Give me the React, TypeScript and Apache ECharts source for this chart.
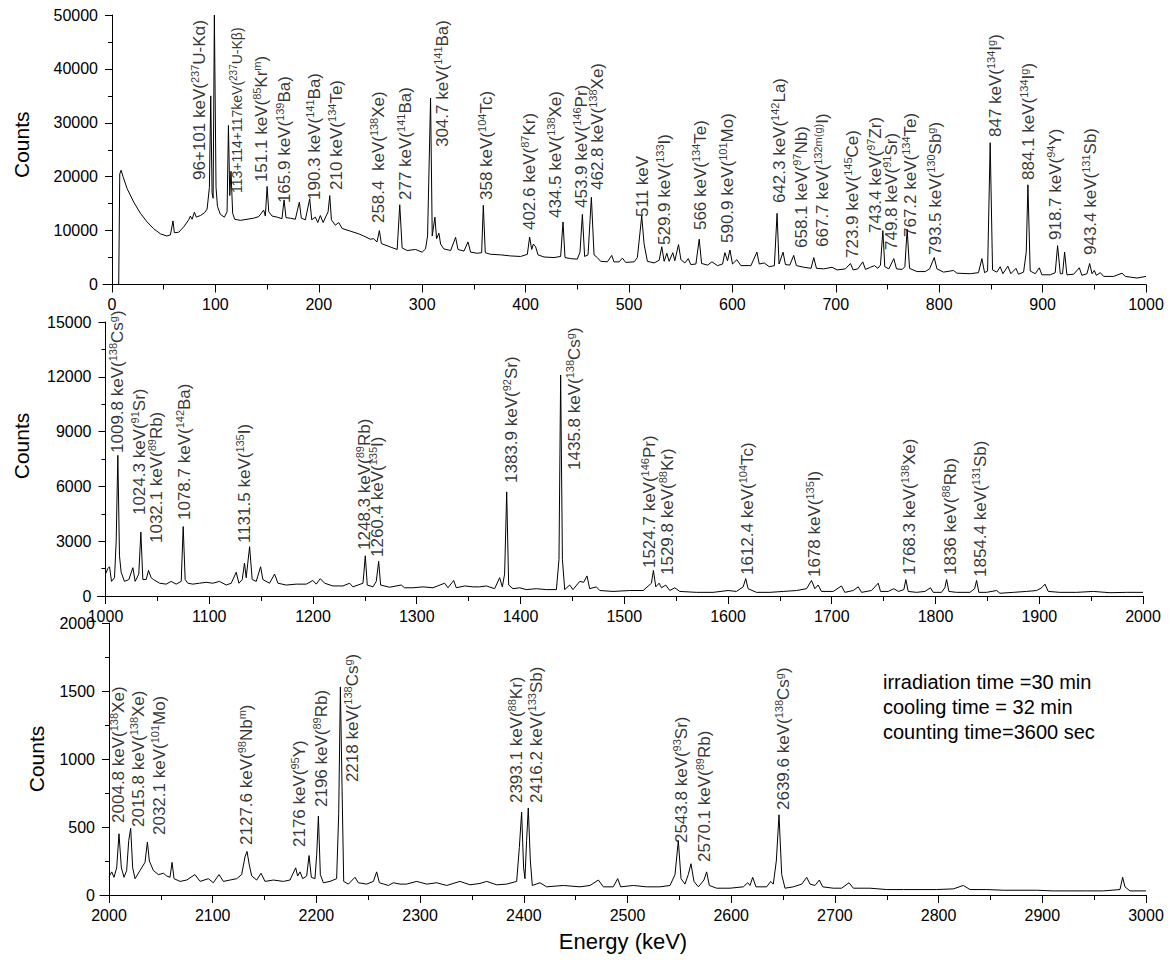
import React, { useEffect, useRef } from "react";
import * as echarts from "echarts";

const FONT = '"Liberation Sans", Arial, Helvetica, sans-serif';

// ---- tick values ----
const majorLow = [0, 100, 200, 300, 400, 500, 600, 700, 800, 900, 1000];
const minorLow = [50, 150, 250, 350, 450, 550, 650, 750, 850, 950];
const majorMid = [1000, 1100, 1200, 1300, 1400, 1500, 1600, 1700, 1800, 1900, 2000];
const minorMid = [1050, 1150, 1250, 1350, 1450, 1550, 1650, 1750, 1850, 1950];
const majorHigh = [2000, 2100, 2200, 2300, 2400, 2500, 2600, 2700, 2800, 2900, 3000];
const minorHigh = [2050, 2150, 2250, 2350, 2450, 2550, 2650, 2750, 2850, 2950];

// ---- spectrum [energy keV, counts] ----
const spectrumLow = [
  [6.5, 0], [7.5, 20500], [8.8, 21200], [10.7, 20000], [14.6, 17800], [21, 15300], [27.5, 13200], [34, 11600],
  [40, 10400], [46.8, 9400], [53, 9000], [56.5, 9200], [59, 11800], [60.3, 9600], [64.5, 9700], [69.4, 10700],
  [74.2, 12000], [75.8, 12700], [77.5, 12100], [79.7, 13400], [81.6, 12500], [85.5, 12800], [89.4, 13300],
  [92, 14000], [94.2, 18000], [95.5, 35000], [96.8, 17000], [97.8, 16000], [99, 50000], [100.6, 18000],
  [102, 14500], [104.8, 13000], [108.7, 12500], [111.3, 13500], [112.6, 29500], [113.9, 16500], [115.1, 21000],
  [116.7, 13200], [118.7, 12100], [124, 11900], [130.6, 12100], [137, 12300], [141.9, 12600], [146.7, 13800],
  [148.3, 12700], [150, 18200], [151.6, 13500], [154.8, 12700], [159.7, 12500], [164.4, 12200], [166.4, 15700],
  [168.3, 12400], [172.5, 12300], [177.3, 12100], [181.2, 15300], [183.1, 12300], [187, 12000], [191.2, 15900],
  [193.2, 12000], [196.7, 12500], [199, 11500], [201.5, 12800], [204.2, 11500], [209, 13500], [210.6, 16500],
  [212.2, 12000], [216, 11000], [219.3, 11500], [222.5, 10400], [230.5, 9900], [238.6, 9400], [243.4, 9000],
  [249.9, 8400], [253, 8500], [256.3, 7900], [258.6, 10000], [260.5, 7600], [266, 7200], [270, 6900],
  [275.8, 6500], [278.3, 14800], [280.6, 6800], [285.4, 6300], [293.5, 6500], [300, 6000], [303.2, 6600],
  [305.2, 9000], [308.1, 34600], [309.7, 9000], [312.3, 12500], [313.9, 8500], [316.2, 9500], [317.8, 7500],
  [321, 6600], [327.5, 6300], [332.3, 8750], [334.6, 6500], [340.4, 6200], [344.3, 7900], [346.8, 6000],
  [353.3, 5800], [357.5, 5900], [359.1, 14700], [361, 5900], [366.2, 5600], [375.9, 5500], [385.5, 5300],
  [395.2, 5200], [401.7, 5600], [403.9, 8800], [405.9, 6500], [407.5, 7500], [409.7, 7000], [412, 5500],
  [417.8, 5100], [427.5, 5000], [433.9, 5200], [436.2, 11600], [438.1, 5000], [443.6, 4800], [450, 4700],
  [452.6, 6000], [454.9, 13000], [457.1, 5200], [460.4, 5500], [463.6, 16200], [466.2, 5500], [469.4, 5000],
  [472.6, 4300], [479.1, 4200], [483.3, 5400], [485.5, 4200], [490.4, 4200], [493.6, 4900], [496.8, 4100],
  [504.9, 4200], [508.1, 5000], [512.3, 12700], [514.6, 7500], [517.8, 4300], [524.3, 4000], [529.2, 4500],
  [531.7, 7000], [534, 4300], [536.6, 5800], [538.8, 4300], [542.4, 5900], [544.3, 4400], [547.9, 7400],
  [550.2, 4600], [554, 4000], [557.3, 4800], [559.8, 3700], [564.7, 3800], [567.9, 8400], [570.2, 3900],
  [576, 3600], [580.2, 4200], [585.6, 3500], [590.5, 3800], [592.7, 5900], [595.3, 4400], [597.6, 6400],
  [600.1, 3800], [604.3, 4600], [608.2, 3500], [617.9, 3500], [623.7, 6000], [626, 3800], [630.8, 4000],
  [635.6, 3300], [640.6, 3500], [643.2, 13200], [645.1, 3800], [649, 6000], [651.3, 3700], [655.5, 3600],
  [659.3, 5400], [661.9, 3500], [669, 3200], [676.1, 3000], [678.7, 5000], [681.3, 3000], [688.4, 2900],
  [696.4, 3200], [701.3, 2700], [709.3, 2900], [714.2, 3900], [716.8, 2700], [721.3, 2900], [726.1, 4200],
  [728.7, 2800], [733.6, 3200], [737.4, 3500], [740.7, 3000], [743.2, 3600], [745.5, 10000], [747.4, 3300],
  [751.3, 2900], [756.1, 4800], [758.7, 2900], [764.2, 2800], [766.8, 3300], [769, 10200], [771.3, 3000],
  [778.4, 2400], [786.5, 2400], [790.7, 2900], [795.2, 5000], [797.8, 2900], [804.2, 2300], [813.9, 2600],
  [817.1, 2100], [830, 2000], [838, 2200], [841.3, 4800], [843.9, 2200], [846.8, 2500], [849.3, 26300],
  [851.6, 2700], [855.8, 2300], [859, 3300], [861.6, 2000], [866.4, 3400], [869.3, 2000], [874.2, 3000],
  [876.7, 1900], [881.6, 2300], [884.2, 6000], [885.8, 18500], [888, 2500], [892.9, 2000], [896.8, 3100],
  [899.3, 1800], [907.4, 1800], [912.2, 2200], [914.5, 7200], [917.1, 2000], [919.3, 2000], [921.3, 6000],
  [923.5, 1800], [930, 1900], [935.5, 3100], [938, 1700], [942.9, 2000], [945.5, 3900], [947.8, 2000],
  [950, 2600], [952, 1700], [955.8, 2200], [959, 1500], [968.7, 1500], [976.8, 2100], [980, 1500],
  [991.3, 1200], [1000, 1500],
];

const spectrumMid = [
  [1000, 1200], [1002.2, 1500], [1003.9, 1600], [1005.8, 800], [1008.7, 1000], [1010.3, 3000], [1011.9, 7700],
  [1013.5, 2200], [1015.1, 1300], [1018.3, 800], [1022.5, 900], [1026.4, 1550], [1028.6, 800], [1032.1, 1200],
  [1034.1, 3500], [1036, 900], [1039.2, 900], [1041.5, 1400], [1044, 1000], [1046.3, 900], [1052.1, 700],
  [1058.5, 650], [1063.3, 800], [1068.1, 650], [1073, 800], [1074.9, 3800], [1076.8, 900], [1079.4, 700],
  [1084.2, 650], [1090.6, 700], [1097.1, 750], [1103.5, 700], [1109.9, 800], [1116.4, 600], [1121.2, 700],
  [1126, 1300], [1128.6, 700], [1131.8, 900], [1134, 1800], [1135.6, 1000], [1138.9, 2700], [1141.4, 900],
  [1145.3, 800], [1149.5, 1600], [1151.7, 900], [1158.1, 700], [1163, 1200], [1166.2, 700], [1174.2, 600],
  [1183.9, 650], [1193.5, 650], [1199.9, 850], [1203.1, 650], [1207, 950], [1211.2, 700], [1219.2, 550],
  [1228.9, 550], [1235.3, 700], [1238.5, 500], [1248.2, 700], [1250.4, 2200], [1252.3, 600], [1257.8, 500],
  [1261, 800], [1263.3, 1900], [1265.2, 600], [1273.9, 480], [1285.1, 600], [1288.3, 450], [1296.3, 450],
  [1306, 500], [1315.6, 450], [1326.9, 700], [1330.1, 450], [1335.6, 850], [1338.1, 450], [1346.2, 550],
  [1354.2, 500], [1360.6, 500], [1367.1, 550], [1375.1, 400], [1379.9, 1000], [1382.5, 500], [1384.7, 1200],
  [1386.7, 5700], [1388.6, 600], [1392.8, 400], [1399.2, 450], [1405.6, 350], [1415.3, 400], [1424.9, 350],
  [1434.6, 350], [1437.1, 2000], [1438.7, 12100], [1440.4, 2000], [1442.6, 350], [1447.4, 600], [1450.6, 350],
  [1457.1, 800], [1460.9, 750], [1464.1, 1100], [1466.7, 400], [1473.1, 500], [1476.4, 300], [1489.2, 250],
  [1505.3, 300], [1518.2, 300], [1526.2, 700], [1528.1, 1400], [1530.4, 500], [1533.6, 700], [1535.9, 450],
  [1540, 600], [1543.9, 300], [1548.7, 450], [1553.5, 250], [1569.6, 200], [1585.6, 200], [1600.1, 300],
  [1608.1, 250], [1614.6, 500], [1617.1, 950], [1619.4, 400], [1627.4, 200], [1640.3, 200], [1653.2, 250],
  [1666, 300], [1675.7, 400], [1680.5, 850], [1683.7, 400], [1686.9, 600], [1690.1, 250], [1701.4, 250],
  [1709.4, 550], [1712.6, 200], [1720.7, 300], [1725.5, 500], [1728.7, 200], [1738.3, 300], [1744.8, 700],
  [1747, 250], [1754.4, 250], [1759.9, 400], [1764.1, 250], [1769.5, 350], [1771.4, 900], [1773.7, 250],
  [1781.7, 200], [1789.8, 250], [1795.2, 450], [1797.8, 200], [1805.8, 200], [1809, 450], [1810.7, 900],
  [1812.9, 250], [1820.3, 200], [1833.2, 200], [1837.7, 400], [1839.6, 850], [1841.8, 200], [1849.2, 200],
  [1858.9, 300], [1862.1, 150], [1875, 200], [1887.8, 250], [1897.5, 300], [1902.3, 450], [1905.5, 650],
  [1908.7, 250], [1919.9, 200], [1936, 200], [1952.1, 250], [1968.2, 180], [1984.2, 200], [2000, 200],
];

const spectrumHigh = [
  [2000, 135], [2002.6, 170], [2004.8, 130], [2007.4, 200], [2009.6, 450], [2011.9, 200], [2014.5, 130],
  [2017, 180], [2019, 400], [2020.9, 490], [2022.8, 200], [2025.1, 120], [2029.9, 180], [2034.7, 240],
  [2037, 390], [2038.9, 250], [2042.8, 180], [2047.6, 150], [2052.4, 160], [2055.6, 140], [2058.8, 130],
  [2060.8, 240], [2062.7, 120], [2068.5, 100], [2074.9, 110], [2082.9, 150], [2087.8, 100], [2095.8, 120],
  [2100.6, 90], [2106.1, 150], [2110.3, 100], [2116.7, 110], [2123.1, 120], [2127.9, 150], [2131.1, 280],
  [2133.1, 320], [2135.3, 220], [2137.6, 140], [2142.4, 110], [2146.6, 160], [2150.4, 100], [2158.5, 110],
  [2168.1, 100], [2174.5, 110], [2180, 200], [2181.9, 140], [2184.2, 170], [2186.8, 120], [2190.6, 140],
  [2192.9, 290], [2195.1, 130], [2198.6, 120], [2200.3, 300], [2201.9, 580], [2203.8, 150], [2206.7, 90],
  [2213.1, 100], [2219.5, 120], [2221.5, 600], [2223.1, 1530], [2224.7, 800], [2226.3, 100], [2230.8, 80],
  [2237.2, 130], [2240.4, 90], [2248.5, 80], [2254.9, 100], [2258.1, 170], [2260.7, 90], [2269.4, 70],
  [2274.2, 90], [2280.6, 80], [2287, 80], [2296.7, 100], [2306.3, 80], [2316, 90], [2325.6, 70],
  [2338.4, 100], [2348.1, 75], [2357.7, 85], [2364.2, 100], [2373.8, 75], [2383.4, 80], [2393.1, 100],
  [2395.7, 350], [2397.9, 610], [2399.8, 200], [2401.1, 120], [2402.7, 400], [2404.3, 640], [2406.3, 250],
  [2408.2, 70], [2415.6, 90], [2422, 60], [2438.1, 70], [2454.2, 60], [2463.8, 70], [2471.9, 110],
  [2476.7, 60], [2486.3, 60], [2490.5, 120], [2493.4, 60], [2505.6, 70], [2518.5, 60], [2531.3, 60],
  [2541, 70], [2545.8, 150], [2549, 400], [2551.6, 120], [2555.4, 80], [2558.6, 150], [2561.2, 230],
  [2564.1, 100], [2568.3, 60], [2573.7, 110], [2576.3, 170], [2578.9, 70], [2585.9, 50], [2598.8, 50],
  [2611.7, 60], [2615.9, 90], [2618.1, 70], [2620.7, 130], [2623.9, 60], [2634.2, 60], [2638.1, 100],
  [2640.6, 80], [2643.5, 250], [2646.1, 590], [2648.7, 150], [2651.9, 50], [2659.9, 60], [2668, 80],
  [2672.8, 130], [2676, 80], [2680.8, 70], [2685, 110], [2688.2, 60], [2698.5, 50], [2706.5, 50],
  [2713.6, 90], [2717.8, 50], [2733.8, 50], [2749.9, 40], [2766, 40], [2782.1, 40], [2798.1, 40],
  [2814.2, 45], [2823.8, 70], [2830.3, 40], [2846.3, 40], [2862.4, 35], [2878.5, 35], [2894.5, 35],
  [2910.6, 30], [2926.7, 30], [2942.8, 30], [2958.8, 30], [2974.9, 40], [2977.5, 130], [2979.7, 60],
  [2984.6, 30], [3000, 30],
];

// ---- peak annotations [energy of label, counts at label foot, text] (^..^ = superscript) ----
const labelsLow: [number, number, string][] = [
  [85, 19400, "96+101 keV(^237^U-Kα)"],
  [145, 19000, "151.1 keV(^85^Kr^m^)"],
  [167, 15100, "165.9 keV(^139^Ba)"],
  [196, 15675, "190.3 keV(^141^Ba)"],
  [217.6, 17530, "210 keV(^134^Te)"],
  [257.5, 11400, "258.4  keV(^138^Xe)"],
  [283.4, 15675, "277 keV(^141^Ba)"],
  [320, 25500, "304.7 keV(^141^Ba)"],
  [362.6, 15675, "358 keV(^104^Tc)"],
  [404, 10100, "402.6 keV(^87^Kr)"],
  [429.4, 12330, "434.5 keV(^138^Xe)"],
  [454.5, 14190, "453.9 keV(^146^Pr)"],
  [470, 17530, "462.8 keV(^138^Xe)"],
  [513.5, 12520, "511 keV"],
  [534.8, 7330, "529.9 keV(^133^I)"],
  [568.7, 10100, "566 keV(^134^Te)"],
  [594.8, 7700, "590.9 keV(^101^Mo)"],
  [646, 15100, "642.3 keV(^142^La)"],
  [667, 6770, "658.1 keV(^97^Nb)"],
  [687.6, 6960, "667.7 keV(^132m(g)^I)"],
  [716.6, 4920, "723.9 keV(^145^Ce)"],
  [738, 9550, "743.4 keV(^97^Zr)"],
  [754, 6400, "749.8 keV(^91^Sr)"],
  [771.8, 8810, "767.2 keV(^134^Te)"],
  [796, 5470, "793.5 keV(^130^Sb^g^)"],
  [854, 27360, "847 keV(^134^I^g^)"],
  [886, 19385, "884.1 keV(^134^I^g^)"],
  [912, 8250, "918.7 keV(^94^Y)"],
  [946, 5470, "943.4 keV(^131^Sb)"],
];
const labelsLowSmall: [number, number, string][] = [
  [121, 16970, "113+114+117keV(^237^U-Kβ)"],
];
const labelsMid: [number, number, string][] = [
  [1011.6, 7830, "1009.8 keV(^138^Cs^g^)"],
  [1032.8, 4430, "1024.3 keV(^91^Sr)"],
  [1049, 2900, "1032.1 keV(^89^Rb)"],
  [1076, 4160, "1078.7 keV(^142^Ba)"],
  [1134, 2900, "1131.5 keV(^135^I)"],
  [1249.8, 2520, "1248.3 keV(^89^Rb)"],
  [1262, 2135, "1260.4 keV(^135^I)"],
  [1391.5, 6185, "1383.9 keV(^92^Sr)"],
  [1452, 6900, "1435.8 keV(^138^Cs^g^)"],
  [1524.6, 1530, "1524.7 keV(^146^Pr)"],
  [1542, 1150, "1529.8 keV(^88^Kr)"],
  [1619, 1150, "1612.4 keV(^104^Tc)"],
  [1683.7, 1040, "1678 keV(^135^I)"],
  [1775, 1150, "1768.3 keV(^138^Xe)"],
  [1814, 1150, "1836 keV(^88^Rb)"],
  [1843, 1040, "1854.4 keV(^131^Sb)"],
];
const labelsHigh: [number, number, string][] = [
  [2008.7, 530, "2004.8 keV(^138^Xe)"],
  [2028, 500, "2015.8 keV(^138^Xe)"],
  [2049, 441, "2032.1 keV(^101^Mo)"],
  [2133, 368, "2127.6 keV(^98^Nb^m^)"],
  [2184, 353, "2176 keV(^95^Y)"],
  [2205, 647, "2196 keV(^89^Rb)"],
  [2235, 830, "2218 keV(^138^Cs^g^)"],
  [2393.4, 676, "2393.1 keV(^88^Kr)"],
  [2412.7, 676, "2416.2 keV(^133^Sb)"],
  [2552.5, 382, "2543.8 keV(^93^Sr)"],
  [2574.7, 243, "2570.1 keV(^89^Rb)"],
  [2650, 625, "2639.6 keV(^138^Cs^g^)"],
];

const infoLines = ["irradiation time =30 min", "cooling time = 32 min", "counting time=3600 sec"];

function toRich(t: string): string {
  return t
    .split("^")
    .map((p, i) => (p === "" ? "" : `{${i % 2 ? "s" : "n"}|${p}}`))
    .join("");
}

function richStyles(size: number, sup: number, lh: number) {
  return {
    n: { fontSize: size, fontFamily: FONT, color: "#000", lineHeight: lh, verticalAlign: "middle" },
    s: { fontSize: sup, fontFamily: FONT, color: "#000", lineHeight: sup + 1, verticalAlign: "top" },
  };
}

function xAxesFor(g: number, min: number, max: number, majors: number[], minors: number[], named: boolean) {
  return [
    {
      type: "value",
      gridIndex: g,
      min,
      max,
      position: "bottom",
      axisLine: { show: true, onZero: false, lineStyle: { color: "#000", width: 1 } },
      axisTick: { show: true, customValues: majors, length: 8, lineStyle: { color: "#000", width: 1 } },
      axisLabel: {
        show: true,
        customValues: majors,
        fontSize: 16,
        fontFamily: FONT,
        color: "#000",
        margin: 12,
        formatter: (v: number) => String(v),
      },
      splitLine: { show: false },
      minorTick: { show: false },
      name: named ? "Energy (keV)" : "",
      nameLocation: "middle",
      nameGap: 35,
      nameTextStyle: { fontSize: 22, fontFamily: FONT, color: "#000" },
    },
    {
      type: "value",
      gridIndex: g,
      min,
      max,
      position: "bottom",
      axisLine: { show: false, onZero: false },
      axisTick: { show: true, customValues: minors, length: 5, lineStyle: { color: "#000", width: 1 } },
      axisLabel: { show: false },
      splitLine: { show: false },
    },
  ];
}

function yAxisFor(g: number, max: number, interval: number, offset: number, nameGap: number, pad: number) {
  return {
    type: "value",
    gridIndex: g,
    min: 0,
    max,
    interval,
    position: "left",
    offset,
    axisLine: { show: true, onZero: false, lineStyle: { color: "#000", width: 1 } },
    axisTick: { show: true, length: 7, lineStyle: { color: "#000", width: 1 } },
    minorTick: { show: true, splitNumber: 2, length: 4, lineStyle: { color: "#000", width: 1 } },
    axisLabel: { fontSize: 16, fontFamily: FONT, color: "#000", margin: 14, formatter: (v: number) => String(v) },
    splitLine: { show: false },
    minorSplitLine: { show: false },
    name: "Counts",
    nameLocation: "middle",
    nameRotate: 90,
    nameGap,
    nameTextStyle: { fontSize: 21, fontFamily: FONT, color: "#000", padding: [0, 0, 0, pad] },
  };
}

function lineSeries(xi: number, yi: number, data: number[][]) {
  return {
    type: "line",
    xAxisIndex: xi,
    yAxisIndex: yi,
    data,
    showSymbol: false,
    symbol: "none",
    silent: true,
    lineStyle: { color: "#000", width: 1 },
    clip: true,
  };
}

function labelSeries(xi: number, yi: number, labels: [number, number, string][], size: number, sup: number, lh: number) {
  return {
    type: "scatter",
    xAxisIndex: xi,
    yAxisIndex: yi,
    symbolSize: 0,
    silent: true,
    clip: false,
    itemStyle: { color: "transparent" },
    data: labels.map(([e, c, t]) => ({ value: [e, c], name: t })),
    label: {
      show: true,
      position: "inside",
      rotate: 90,
      align: "left",
      verticalAlign: "middle",
      color: "#000",
      fontFamily: FONT,
      fontSize: size,
      formatter: (p: any) => toRich(p.name),
      rich: richStyles(size, sup, lh),
    },
  };
}

export default function App() {
  const ref = useRef<HTMLDivElement>(null);
  useEffect(() => {
    if (!ref.current) return;
    const chart = echarts.init(ref.current, null, { renderer: "svg" });
    const option: any = {
      animation: false,
      backgroundColor: "#fff",
      grid: [
        { left: 103, top: 15, width: 1043, height: 269.5, outerBoundsMode: "none", containLabel: false },
        { left: 97.5, top: 322, width: 1045.5, height: 274, outerBoundsMode: "none", containLabel: false },
        { left: 100, top: 623, width: 1046, height: 272, outerBoundsMode: "none", containLabel: false },
      ],
      xAxis: [
        ...xAxesFor(0, -8.7, 1000, majorLow, minorLow, false),
        ...xAxesFor(1, 992.3, 2000, majorMid, minorMid, false),
        ...xAxesFor(2, 1991.3, 3000, majorHigh, minorHigh, true),
      ],
      yAxis: [
        yAxisFor(0, 50000, 10000, -9, 80, 10),
        yAxisFor(1, 15000, 3000, -8, 74, 26),
        yAxisFor(2, 2000, 500, -9, 62, 0),
      ],
      series: [
        lineSeries(0, 0, spectrumLow),
        lineSeries(2, 1, spectrumMid),
        lineSeries(4, 2, spectrumHigh),
        labelSeries(0, 0, labelsLow, 17, 11, 20),
        labelSeries(0, 0, labelsLowSmall, 14, 10, 17),
        labelSeries(2, 1, labelsMid, 17, 11, 20),
        labelSeries(4, 2, labelsHigh, 17, 11, 20),
      ],
      graphic: [
        {
          type: "text",
          left: 883,
          top: 669,
          style: {
            text: infoLines.join("\n"),
            fontSize: 20,
            fontFamily: FONT,
            lineHeight: 25,
            fill: "#000",
          },
        },
      ],
    };
    chart.setOption(option);
    return () => chart.dispose();
  }, []);
  return (
    <div
      ref={ref}
      style={{ position: "absolute", left: 0, top: 0, width: 1174, height: 963, background: "#fff" }}
    />
  );
}
